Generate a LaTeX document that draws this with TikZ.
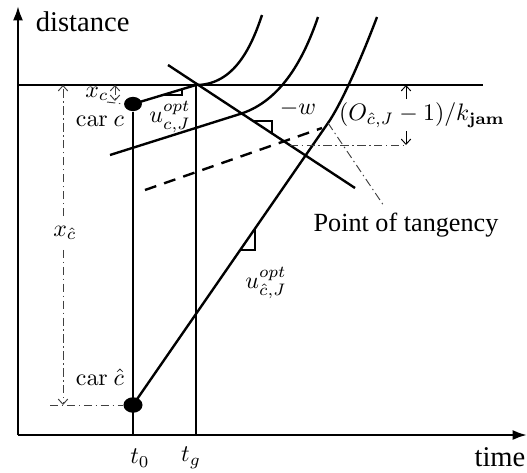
\documentclass[tikz,border=0pt]{standalone}
\usepackage[no-math]{fontspec}
\setmainfont{Liberation Serif}
\usepackage{tikz}
\usetikzlibrary{arrows.meta,positioning,shapes.geometric}
\tikzset{
  axis/.style={line width=1pt,-{Latex[length=6pt,width=4.2pt]}},
  traj/.style={line width=1pt},
  timeline/.style={line width=0.6pt},
  guide/.style={thin,draw=black!75,dash pattern=on 3.5pt off 1.5pt on 0.6pt off 1.5pt},
  dimtip/.style={-{Straight Barb[length=2.2pt,width=4pt]}},
  car/.style={ellipse,fill=black,inner sep=0pt,minimum width=7.5pt,minimum height=6pt},
  lbl/.style={inner sep=1pt,font=\fontsize{11}{13}\selectfont},
  mlbl/.style={inner sep=1pt}
}
\begin{document}
\begin{tikzpicture}[x=0.42pt,y=-0.42pt]
  \useasboundingbox (0,0) rectangle (527,472);
  % axes
  \coordinate (O) at (18,435);
  \coordinate (ytip) at (18,6);
  \coordinate (xtip) at (527,435);
  \draw[axis] (O) -- (ytip);
  \draw[axis] (O) -- (xtip);
  \node[lbl,anchor=west,font=\fontsize{12}{14}\selectfont] (dist) at (33,22) {distance};
  \node[lbl,anchor=east,inner sep=0.5pt,font=\fontsize{12}{14}\selectfont] (time) at (527,457) {time};

  % jam density line
  \coordinate (jamL) at (18,85);
  \coordinate (jamR) at (483,85);
  \draw[traj] (jamL) -- (jamR);

  % cars and time lines
  \node[car] (carc) at (133,104) {};
  \node[car,minimum width=8pt,minimum height=6.5pt] (carch) at (133,405) {};
  \node[mlbl] (carclbl) at (100,121) {$\mathrm{car}\ c$};
  \node[mlbl] (carchlbl) at (100,377) {$\mathrm{car}\ \hat{c}$};
  \coordinate (tg) at (196,85);
  \draw[timeline] (carc) -- (carc |- O);
  \draw[timeline] (tg) -- (tg |- O);
  \node[mlbl] (t0) at (140,458) {$t_0$};
  \node[mlbl] (tglbl) at (191,458) {$t_g$};

  % trajectories
  \draw[traj] (carc.center) -- (tg) .. controls (235,85) and (252,45) .. (262,15);
  \draw[traj] (110,155) -- (240,114) .. controls (275,103) and (300,70) .. (318,17);
  \coordinate (tan) at (328,123);
  \draw[traj] (carch.center) -- (tan) .. controls (340,106) and (360,62) .. (377,17);
  \draw[traj,dash pattern=on 5pt off 3.5pt] (145,190) -- (322,128);

  % backward wave
  \coordinate (wtop) at (168,65);
  \coordinate (wbot) at (355,188);
  \draw[traj] (wtop) -- (wbot);
  \node[mlbl] (wlbl) at (298,109) {$-w$};

  % slope marks
  \draw[semithick] (162,95) -- (182,95) -- (182,89.5);
  \draw[semithick] (253,121) -- (272,121) -- (272,134);
  \draw[semithick] (241,250) -- (255,250) -- (255,229);
  \node[mlbl] (uc) at (170,117) {$u^{opt}_{c,J}$};
  \node[mlbl] (uch) at (266,283) {$u^{opt}_{\hat{c},J}$};

  % spacings
  \coordinate (xctop) at (115,85);
  \coordinate (xcbot) at (115,101);
  \draw[guide,{Straight Barb[length=2.2pt,width=4pt]}-{Straight Barb[length=2.2pt,width=4pt]}] (xctop) -- (xcbot);
  \draw[guide] (107,102) -- (carc.west);
  \node[mlbl] (xc) at (97,94) {$x_c$};

  \coordinate (xchtop) at (63,85);
  \coordinate (xchbot) at (63,405);
  \node[mlbl,inner sep=4pt] (xch) at (65,233) {$x_{\hat{c}}$};
  \draw[guide,dimtip] (xch.north -| xchtop) -- (xchtop);
  \draw[guide,dimtip] (xch.south -| xchtop) -- (xchbot);
  \draw[guide] (50,405) -- (carch.west);

  \coordinate (ktop) at (406,85);
  \coordinate (kbot) at (406,145);
  \draw[thin,dimtip] (406,99) -- (ktop);
  \draw[thin,dimtip] (406,131) -- (kbot);
  \draw[guide] (289.6,145) -- (kbot);
  \node[mlbl] (klbl) at (422,115) {$(O_{\hat{c},J}-1)/k_{\mathbf{jam}}$};

  % tangency
  \node[lbl] (ptlbl) at (406,225) {Point of tangency};
  \draw[guide] (tan) -- (384,206);
\end{tikzpicture}
\end{document}
